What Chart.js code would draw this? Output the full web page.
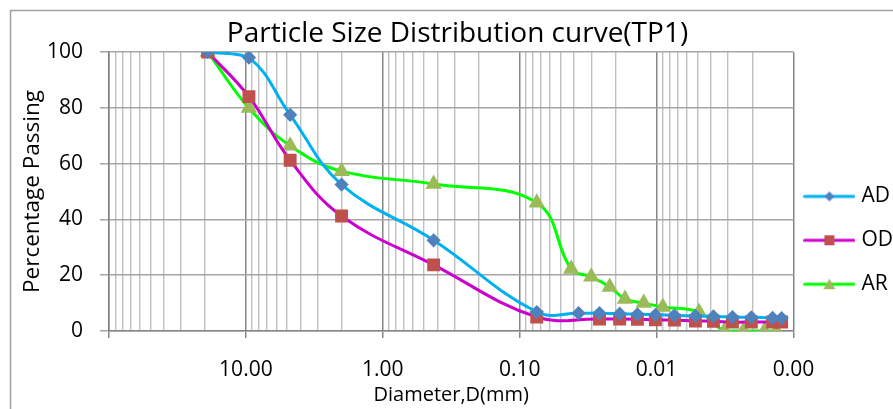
<!DOCTYPE html>
<html>
<head>
<meta charset="utf-8">
<title>Particle Size Distribution curve(TP1)</title>
<script src="https://cdn.jsdelivr.net/npm/chart.js@4.4.1/dist/chart.umd.min.js"></script>
<style>
  html, body { margin: 0; padding: 0; background: #fff; }
  #wrap { width: 893px; height: 409px; overflow: hidden; }
</style>
</head>
<body>
<div id="wrap"><canvas id="psd" width="893" height="409"></canvas></div>
<script>
// sieve + hydrometer results, diameter in mm / percent passing
const adSize = [19, 9.5, 4.75, 2, 0.425, 0.075, 0.0371, 0.0261, 0.0186, 0.0138, 0.0102, 0.0074, 0.0052, 0.00384, 0.00279, 0.00203, 0.00142, 0.00122];
const adPass = [100, 98, 77.5, 52.5, 32.5, 6.8, 6.4, 6.4, 6.2, 6.0, 5.8, 5.6, 5.4, 5.2, 5.0, 4.9, 4.7, 4.6];

const odSize = [19, 9.5, 4.75, 2, 0.425, 0.075, 0.0261, 0.0186, 0.0138, 0.0102, 0.0074, 0.0052, 0.00384, 0.00279, 0.00203, 0.00142, 0.00122];
const odPass = [100, 84, 61.2, 41.2, 23.7, 5.0, 4.3, 4.3, 4.2, 4.0, 3.9, 3.6, 3.5, 3.2, 3.2, 3.2, 3.2];

const arSize = [19, 9.5, 4.75, 2, 0.425, 0.075, 0.042, 0.030, 0.022, 0.017, 0.0124, 0.009, 0.0049, 0.0032, 0.00232, 0.00163, 0.00133];
const arPass = [100, 79.9, 66.4, 57.3, 52.7, 46, 22.2, 19.4, 15.8, 11.5, 10.0, 8.6, 6.8, 0, 0, 0, 0];

const seriesNames = ['AD', 'OD', 'AR'];
const xMajor = [100, 10, 1, 0.1, 0.01, 0.001];
const xTickLabels = ['', '10.00', '1.00', '0.10', '0.01', '0.00'];
const yTicks = [0, 20, 40, 60, 80, 100];

Chart.defaults.font.family = '"Open Sans", sans-serif';
Chart.defaults.color = '#000';

function toPoints(xs, ys) {
  return xs.map((x, i) => ({ x: x, y: ys[i] }));
}

function majorIndex(v) {
  return xMajor.findIndex(m => Math.abs(m - v) / m < 1e-6);
}

// 1..9 of every decade for the log grid
const xGridVals = [];
for (let i = 1; i < xMajor.length; i++) {
  for (let k = 1; k <= 9; k++) xGridVals.push(xMajor[i] * k);
}
xGridVals.push(100);

// line + marker icons for the legend
function legendIcon(lineColor, markerColor, shape) {
  const c = document.createElement('canvas');
  c.width = 52; c.height = 14;
  const g = c.getContext('2d');
  g.strokeStyle = lineColor;
  g.lineWidth = 3;
  g.lineCap = 'round';
  g.beginPath(); g.moveTo(1.5, 7); g.lineTo(50.5, 7); g.stroke();
  g.fillStyle = markerColor;
  g.beginPath();
  if (shape === 'diamond') {
    g.moveTo(26, 2); g.lineTo(31, 7); g.lineTo(26, 12); g.lineTo(21, 7);
  } else if (shape === 'square') {
    g.rect(21, 2, 10, 10);
  } else {
    g.moveTo(26, 1.5); g.lineTo(32, 12); g.lineTo(20, 12);
  }
  g.closePath(); g.fill();
  return c;
}

const icons = [
  legendIcon('#00b0f0', '#4f81bd', 'diamond'),
  legendIcon('#cc00cc', '#c0504d', 'square'),
  legendIcon('#00ff00', '#9bbb59', 'triangle')
];

const frame = {
  id: 'frame',
  beforeDraw(chart) {
    const ctx = chart.ctx;
    ctx.save();
    ctx.fillStyle = '#fff';
    ctx.fillRect(0, 0, chart.width, chart.height);
    ctx.strokeStyle = '#a0a0a0';
    ctx.lineWidth = 1.5;
    ctx.strokeRect(10.5, 10.5, chart.width + 10, chart.height + 10);
    ctx.restore();
  }
};

new Chart(document.getElementById('psd'), {
  type: 'line',
  data: {
    datasets: [
      {
        label: seriesNames[0],
        data: toPoints(adSize, adPass),
        borderColor: '#00b0f0',
        backgroundColor: '#4f81bd',
        pointBackgroundColor: '#4f81bd',
        pointBorderColor: '#4f81bd',
        pointStyle: 'rectRot',
        pointRadius: 5,
        borderWidth: 3,
        tension: 0.4
      },
      {
        label: seriesNames[1],
        data: toPoints(odSize, odPass),
        borderColor: '#cc00cc',
        backgroundColor: '#c0504d',
        pointBackgroundColor: '#c0504d',
        pointBorderColor: '#c0504d',
        pointStyle: 'rect',
        pointRadius: 7,
        borderWidth: 3,
        tension: 0.4
      },
      {
        label: seriesNames[2],
        data: toPoints(arSize, arPass),
        borderColor: '#00ff00',
        backgroundColor: '#9bbb59',
        pointBackgroundColor: '#9bbb59',
        pointBorderColor: '#9bbb59',
        pointStyle: 'triangle',
        pointRadius: 6.5,
        borderWidth: 3,
        tension: 0.4
      }
    ]
  },
  options: {
    responsive: false,
    animation: false,
    layout: { padding: { left: 12, right: -10, top: 0, bottom: 0 } },
    plugins: {
      tooltip: { enabled: false },
      title: {
        display: true,
        text: 'Particle Size Distribution curve(TP1)',
        font: { size: 28, weight: 'normal' },
        padding: { top: 17, bottom: 1.4 }
      },
      legend: {
        position: 'right',
        title: { display: true, text: '', font: { size: 10, lineHeight: 1 }, padding: { top: 0, bottom: 70 } },
        labels: {
          usePointStyle: true,
          pointStyleWidth: 43,
          padding: 14.5,
          font: { size: 21, lineHeight: 1.4 },
          generateLabels(chart) {
            const items = Chart.defaults.plugins.legend.labels.generateLabels(chart);
            return items.map((it, i) => Object.assign(it, { pointStyle: icons[i], text: [it.text] }));
          }
        }
      }
    },
    scales: {
      x: {
        type: 'logarithmic',
        reverse: true,
        min: 0.001,
        max: 100,
        afterBuildTicks(scale) {
          scale.ticks = xGridVals.map(v => ({ value: v }));
        },
        afterFit(scale) { scale.height = 78; },
        ticks: {
          autoSkip: false,
          maxRotation: 0,
          padding: 19,
          font: { size: 21 },
          callback(value) {
            const i = majorIndex(value);
            return i >= 0 ? xTickLabels[i] : '';
          }
        },
        grid: {
          tickLength: 7,
          color: ctx => majorIndex(ctx.tick.value) >= 0 ? '#868686' : '#c0c0c0',
          lineWidth: ctx => majorIndex(ctx.tick.value) >= 0 ? 1.5 : 1.4,
          tickColor: ctx => majorIndex(ctx.tick.value) >= 0 ? '#868686' : 'rgba(0,0,0,0)'
        },
        border: { color: '#868686', width: 1.5 },
        title: {
          display: true,
          text: 'Diameter,D(mm)',
          font: { size: 20 },
          padding: { top: 2, bottom: 2 }
        }
      },
      y: {
        min: 0,
        max: 100,
        afterBuildTicks(scale) {
          scale.ticks = yTicks.map(v => ({ value: v }));
        },
        afterFit(scale) { scale.width = 97; },
        ticks: { padding: 17, font: { size: 21 } },
        grid: { color: '#a6a6a6', lineWidth: 1.5, tickLength: 9 },
        border: { color: '#808080', width: 1.5 },
        title: {
          display: true,
          text: 'Percentage Passing',
          font: { size: 22.5 },
          padding: { top: 7, bottom: 0 }
        }
      }
    }
  },
  plugins: [frame]
});
</script>
</body>
</html>
